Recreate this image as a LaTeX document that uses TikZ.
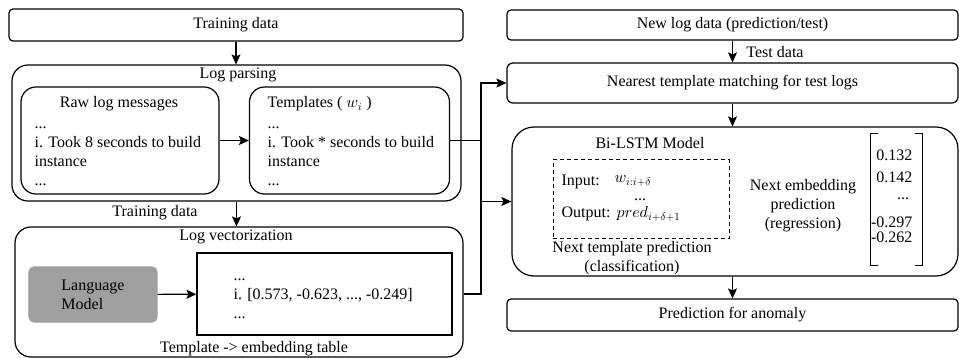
\documentclass[tikz,border=0pt]{standalone}
\usepackage{fontspec}
\setmainfont{Liberation Serif}
\DeclareFontShape{OML}{cmm}{m}{it}{<->cmmi10}{}
\usetikzlibrary{arrows.meta,positioning}

\begin{document}
\begin{tikzpicture}
[x=1pt,y=-1pt,line width=1.2pt,font=\fontsize{16}{19}\selectfont,
box/.style={draw,rounded corners=#1},
box/.default=5pt,
lbl/.style={inner sep=0pt,align=left},
arr/.style={-{Stealth[length=10pt,width=9pt,inset=2pt]}}];
\useasboundingbox (0,0) rectangle (959,358);

% left column: training side
\node[box=4pt,minimum width=454pt,minimum height=32pt] (train) at (236,25) {Training data};
\node[box=16pt,minimum width=449pt,minimum height=136pt] (parse) at (236.5,133) {};
\node (parsetitle) at (238,75) {Log parsing};
\node[box=15pt,minimum width=198pt,minimum height=107pt] (raw) at (120,140.5) {};
\node[box=15pt,minimum width=200pt,minimum height=107pt] (tmpl) at (349.5,140.5) {};
\node (rawtitle) at (119,104) {Raw log messages};
\node[lbl,anchor=north west] (rawtxt) at (34,115) {\strut...\\\strut i. Took 8 seconds to build\\\strut instance\\\strut...};
\node[lbl,anchor=west] (tmpltitle) at (267,104) {Templates ( $w_i$ )};
\node[lbl,anchor=north west] (tmpltxt) at (267,115) {\strut...\\\strut i. Took * seconds to build\\\strut instance\\\strut...};

\node (vtrain) at (155,213) {Training data};
\node[box=16pt,minimum width=448pt,minimum height=130pt] (vect) at (239,292) {};
\node (vecttitle) at (236,237) {Log vectorization};
\node[box=5pt,draw=gray!75,fill=gray!75,minimum width=128pt,minimum height=55pt,align=left] (lm) at (93,294.5) {Language\\Model};
\node[draw,minimum width=255pt,minimum height=82pt] (table) at (324.5,294) {};
\node[lbl,anchor=north west] (tabletxt) at (233,266.7) {\strut...\\\strut i. [0.573, -0.623, ..., -0.249]\\\strut...};
\node (tabletitle) at (254,349) {Template -> embedding table};

% right column: prediction side
\node[box=4pt,minimum width=451pt,minimum height=30pt] (newlog) at (732.5,25) {New log data (prediction/test)};
\node[box=6pt,minimum width=451pt,minimum height=40pt] (near) at (732.5,83) {Nearest template matching for test logs};
\node[box=22pt,minimum width=446pt,minimum height=149pt] (bilstm) at (735,201.5) {};
\node[box=4pt,minimum width=451pt,minimum height=32pt] (anomaly) at (732.5,315) {Prediction for anomaly};
\node (testlbl) at (775,52) {Test data};

\node (bititle) at (650,143) {Bi-LSTM Model};
\node[draw,line width=1pt,dash pattern=on 4pt off 3pt,minimum width=176pt,minimum height=79pt] (dash) at (641,199.5) {};
\node[lbl,anchor=west] (inlbl) at (561,182) {Input:};
\node[lbl,anchor=west] (inval) at (614,181) {$w_{i:i+\delta}$};
\node[inner sep=0pt] (indots) at (640,200) {...};
\node[lbl,anchor=west] (outlbl) at (561,214) {Output:};
\node[lbl,anchor=west] (outval) at (616,214) {$pred_{i+\delta+1}$};
\node[align=center] (clslbl) at (632,258.5) {Next template prediction\\(classification)};
\node[align=center] (reglbl) at (803,206) {Next embedding\\prediction\\(regression)};

% embedding vector
\node[minimum width=51pt,minimum height=131pt] (vec) at (896.5,199.5) {};
\draw ([xshift=8pt]vec.north west) -| (vec.south west) -- ++(8,0);
\draw ([xshift=-8pt]vec.north east) -| (vec.south east) -- ++(-8,0);
\foreach \v/\y in {0.132/155,0.142/177,-0.297/222,-0.262/237}
  \node[inner sep=0pt,anchor=east] (val\y) at (913,\y) {\v};
\node[inner sep=0pt] (vecdots) at (903,199) {...};

% connectors
\draw[arr] (train.south) -- (train.south |- parse.north);
\draw[arr] (raw) -- (tmpl);
\draw[arr] (parse.south) -- (parse.south |- vect.north);
\draw[arr] (lm) -- (table);
\draw[arr] (newlog) -- (near);
\draw[arr] (near.south) -- (near.south |- bilstm.north);
\draw[arr] (anomaly.north |- bilstm.south) -- (anomaly.north);

\coordinate (bus) at (481,0);
\draw (tmpl.east) -- (bus |- tmpl.east);
\draw[arr] (table.east -| vect.east) -- (bus |- table.east) |- (near.west);
\draw[arr] (bus |- bilstm.west) -- (bilstm.west);
\end{tikzpicture}
\end{document}
